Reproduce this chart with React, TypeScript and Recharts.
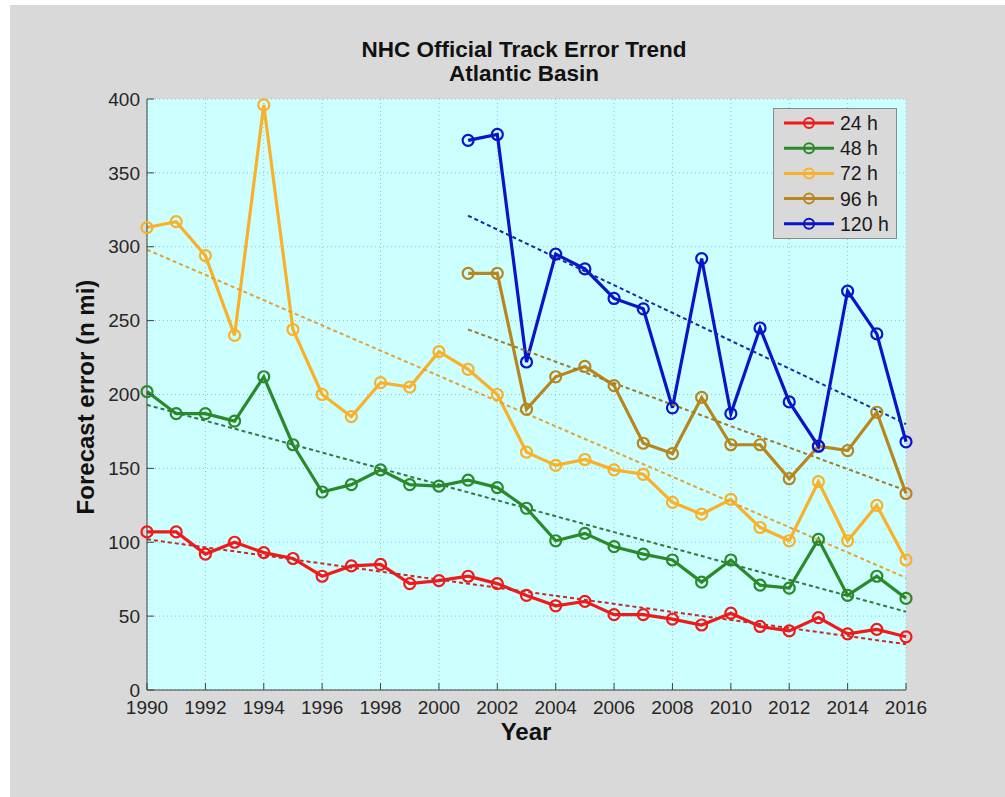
import React from 'react';
import { LineChart, Line, XAxis, YAxis, CartesianGrid } from 'recharts';

const years = [1990,1991,1992,1993,1994,1995,1996,1997,1998,1999,2000,2001,2002,2003,2004,2005,2006,2007,2008,2009,2010,2011,2012,2013,2014,2015,2016];
const err24 = [107,107,92,100,93,89,77,84,85,72,74,77,72,64,57,60,51,51,48,44,52,43,40,49,38,41,36];
const err48 = [202,187,187,182,212,166,134,139,149,139,138,142,137,123,101,106,97,92,88,73,88,71,69,102,64,77,62];
const err72 = [313,317,294,240,396,244,200,185,208,205,229,217,200,161,152,156,149,146,127,119,129,110,101,141,101,125,88];
const years96 = [2001,2002,2003,2004,2005,2006,2007,2008,2009,2010,2011,2012,2013,2014,2015,2016];
const err96 = [282,282,190,212,219,206,167,160,198,166,166,143,165,162,188,133];
const err120 = [372,376,222,295,285,265,258,191,292,187,245,195,165,270,241,168];

// trend line endpoints [startYear, startValue, endYear, endValue]
const trend24 = [1990, 102, 2016, 31];
const trend48 = [1990, 193, 2016, 53];
const trend72 = [1990, 298, 2016, 76];
const trend96 = [2001, 244, 2016, 135];
const trend120 = [2001, 321, 2016, 180];

const xTicks = [1990,1992,1994,1996,1998,2000,2002,2004,2006,2008,2010,2012,2014,2016];
const yTicks = [0,50,100,150,200,250,300,350,400];

const seriesInfo = [
  { key: 'h24', name: '24 h', color: '#f01a1a', trend: '#c42a2a' },
  { key: 'h48', name: '48 h', color: '#2a8a2a', trend: '#2e7a3e' },
  { key: 'h72', name: '72 h', color: '#f8b12a', trend: '#e8a030' },
  { key: 'h96', name: '96 h', color: '#b8861e', trend: '#a07a2a' },
  { key: 'h120', name: '120 h', color: '#0a14c8', trend: '#1a2aa0' },
];

const trendAt = (t: number[], y: number) => (y === t[0] ? t[1] : y === t[2] ? t[3] : null);

const data = years.map((y, i) => {
  const j = years96.indexOf(y);
  return {
    year: y,
    h24: err24[i],
    h48: err48[i],
    h72: err72[i],
    h96: j >= 0 ? err96[j] : null,
    h120: j >= 0 ? err120[j] : null,
    t24: trendAt(trend24, y),
    t48: trendAt(trend48, y),
    t72: trendAt(trend72, y),
    t96: trendAt(trend96, y),
    t120: trendAt(trend120, y),
  };
});

const FONT = '"Liberation Sans", Arial, Helvetica, sans-serif';
const tickStyle = { fontSize: 19, fill: '#262626', fontFamily: FONT };

const LegendBox = () => (
  <div style={{ position: 'absolute', left: 763, top: 103, width: 124, height: 131, background: '#d9d9d9', border: '1px solid #8a8a8a', boxSizing: 'border-box' }}>
    <svg width={122} height={129} style={{ display: 'block' }}>
      {seriesInfo.map((s, i) => {
        const cy = 14 + i * 25.2;
        return (
          <g key={s.key}>
            <line x1={10} x2={60} y1={cy} y2={cy} stroke={s.color} strokeWidth={3} />
            <circle cx={35} cy={cy} r={5} fill="none" stroke={s.color} strokeWidth={2} />
            <text x={66} y={cy + 7} fontSize={19.5} fontFamily={FONT} fill="#1a1a1a">{s.name}</text>
          </g>
        );
      })}
    </svg>
  </div>
);

export default function App() {
  return (
    <div style={{ position: 'absolute', left: 10, top: 5, width: 995, height: 792, background: '#d9d9d9', fontFamily: FONT }}>
      <div style={{ position: 'absolute', left: 0, width: 1028, top: 33, textAlign: 'center', fontWeight: 'bold', fontSize: 22.5, lineHeight: '24px', color: '#111' }}>
        NHC Official Track Error Trend<br />Atlantic Basin
      </div>
      <LineChart width={995} height={792} data={data} margin={{ top: 94, right: 99, bottom: 77, left: 0 }}>
        <CartesianGrid fill="#ccffff" stroke="#9fbcbc" strokeDasharray="1 3" />
        <XAxis dataKey="year" type="number" domain={[1990, 2016]} ticks={xTicks} interval={0}
          height={30} tick={tickStyle} tickSize={-7} tickMargin={18} stroke="#404040" />
        <XAxis xAxisId="top" orientation="top" dataKey="year" type="number" domain={[1990, 2016]} ticks={xTicks}
          height={0} tick={false} tickSize={-7} stroke="#404040" />
        <YAxis domain={[0, 400]} ticks={yTicks} interval={0} width={137} tick={tickStyle} tickSize={-7} tickMargin={14} stroke="#404040" />
        <YAxis yAxisId="right" orientation="right" domain={[0, 400]} ticks={yTicks} width={0} tick={false} tickSize={-7} stroke="#404040" />
        {seriesInfo.map((s) => (
          <Line key={s.key} dataKey={s.key} name={s.name} stroke={s.color} strokeWidth={3.2}
            dot={{ r: 5.5, fill: 'none', stroke: s.color, strokeWidth: 2.2 }} activeDot={false} isAnimationActive={false} />
        ))}
        {seriesInfo.map((s) => (
          <Line key={'t' + s.key} dataKey={'t' + s.key.slice(1)} stroke={s.trend} strokeWidth={2} strokeDasharray="4 3"
            dot={false} activeDot={false} connectNulls legendType="none" isAnimationActive={false} />
        ))}
      </LineChart>
      <LegendBox />
      <div style={{ position: 'absolute', left: 0, width: 1032, top: 713, textAlign: 'center', fontWeight: 'bold', fontSize: 24, color: '#111' }}>Year</div>
      <div style={{ position: 'absolute', left: 76 - 150, top: 392 - 14, width: 300, height: 28, textAlign: 'center', fontWeight: 'bold', fontSize: 24, lineHeight: '28px', color: '#111', transform: 'rotate(-90deg)' }}>
        Forecast error (n mi)
      </div>
    </div>
  );
}
